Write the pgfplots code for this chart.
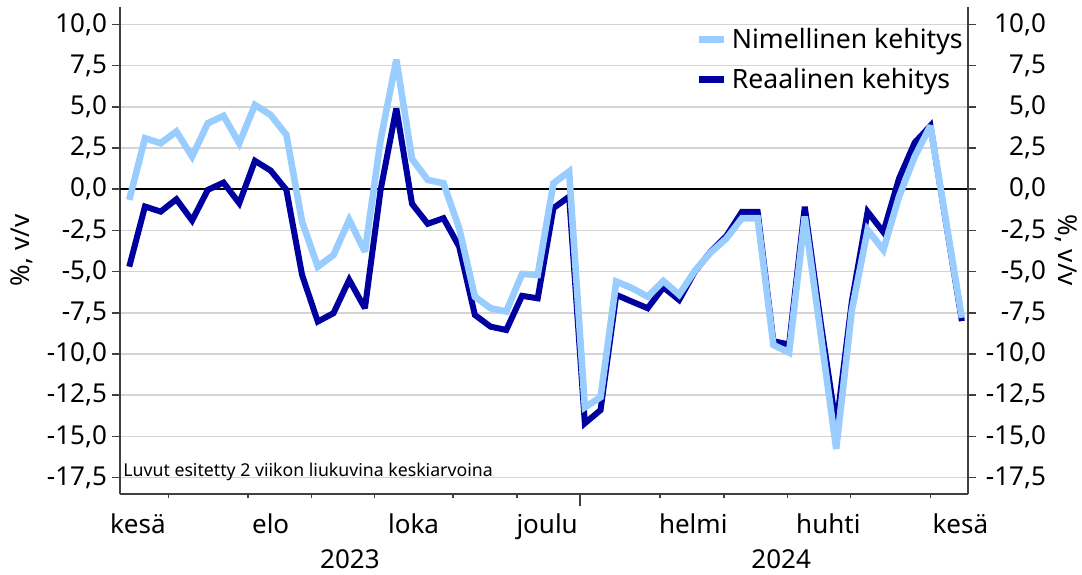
\documentclass[border=0pt]{standalone}
\usepackage{fontspec}
\setmainfont{Noto Sans}
\usepackage{pgfplots}
\usepackage{pgfplotstable}
\pgfplotsset{compat=1.18}

\definecolor{nimell}{RGB}{153,204,255}
\definecolor{reaal}{RGB}{0,0,160}
\definecolor{axisgray}{RGB}{64,64,64}
\definecolor{gridgray}{RGB}{212,212,212}

% viikkoindeksi, nimellinen, reaalinen (2 viikon liukuva ka., %, v/v)
\pgfplotstableread{
i  nim     real
0  -0.65   -4.70
1   3.09   -1.05
2   2.79   -1.36
3   3.50   -0.61
4   1.98   -1.90
5   4.00   -0.04
6   4.45    0.40
7   2.79   -0.85
8   5.11    1.72
9   4.50    1.13
10  3.30   -0.04
11 -1.97   -5.20
12 -4.70   -8.03
13 -3.99   -7.52
14 -1.86   -5.50
15 -3.79   -7.22
16  2.99   -0.04
17  7.85    4.90
18  1.83   -0.89
19  0.56   -2.10
20  0.36   -1.76
21 -2.37   -3.48
22 -6.52   -7.63
23 -7.22   -8.34
24 -7.42   -8.54
25 -5.14   -6.47
26 -5.20   -6.62
27  0.36   -1.15
28  1.07   -0.45
29 -13.23  -14.20
30 -12.62  -13.40
31 -5.60   -6.41
32 -6.00   -6.82
33 -6.52   -7.22
34 -5.57   -5.95
35 -6.40   -6.72
36 -4.95   -5.00
37 -3.85   -3.80
38 -3.00   -2.85
39 -1.76   -1.37
40 -1.76   -1.37
41 -9.45   -9.22
42 -9.91   -9.42
43 -1.66   -1.07
44 -8.70   -8.00
45 -15.75  -14.40
46 -7.32   -6.78
47 -2.47   -1.37
48 -3.68   -2.60
49 -0.45    0.65
50  1.98    2.83
51  3.85    3.85
52 -2.00   -2.10
53 -7.80   -8.00
}\viikot

\pgfplotsset{
  pohja/.style={
    scale only axis, width=424pt, height=243.65pt,
    xmin=-0.59, xmax=53.39, ymin=-18.49, ymax=11.07,
    ytick={-17.5,-15,...,10},
    tick align=outside,
    major tick length=4pt,
    axis line style={axisgray, line width=1pt},
    every tick/.style={axisgray, line width=0.8pt},
    tick label style={font=\fontsize{13}{15}\selectfont},
    /pgf/number format/.cd, fixed, fixed zerofill, precision=1, use comma, assume math mode=true,
  },
}
\tikzset{
  kk/.style={anchor=base, font=\fontsize{13}{15}\selectfont, yshift=-19.5pt},
  vuosi/.style={anchor=base, inner sep=0pt, font=\fontsize{13}{15}\selectfont, yshift=-37pt},
}

\begin{document}
\begin{tikzpicture}
% aika-akseli
\begin{axis}[pohja,
  axis x line*=bottom, axis y line=none,
  major tick length=2pt,
  xtick={2.5,7.55,11.6,15.6,20.6,24.7,33.8,37.85,41.9,45.9,51.0},
  xticklabels={},
  extra x ticks={28.7},
  extra x tick labels={},
  extra x tick style={major tick length=6pt},
]
\end{axis}

\begin{axis}[pohja,
  clip=false,
  axis x line*=bottom, axis y line*=left,
  xtick=\empty,
  yticklabel style={xshift=1pt},
  ymajorgrids,
  major grid style={gridgray, line width=0.8pt},
  ylabel={\%, v/v},
  ylabel style={at={(axis description cs:0,0.5)}, anchor=center, yshift=49pt, font=\fontsize{13}{15}\selectfont},
  legend cell align=left,
  legend style={draw=none, fill=none, at={(axis description cs:1,1)}, anchor=north east,
    xshift=-0.5pt, yshift=-8.5pt, font=\fontsize{13.3}{16}\selectfont, row sep=4.5pt,
    inner sep=0pt},
  legend image code/.code={\draw[#1, line width=3.5pt] (0pt,0pt) -- (12.5pt,0pt);},
]
\addplot[black, line width=0.8pt, forget plot] coordinates {(-0.59,0) (53.39,0)};
\addplot[reaal, line width=3pt, miter limit=2.5, forget plot] table[x=i, y=real] {\viikot};
\addplot[nimell, line width=3.3pt, miter limit=2.5] table[x=i, y=nim] {\viikot};
\addlegendentry{Nimellinen kehitys}
\addlegendimage{reaal}
\addlegendentry{Reaalinen kehitys}

\node[anchor=base west, font=\fontsize{8.85}{10}\selectfont, inner sep=0pt, xshift=1.5pt] at (axis cs:-0.59,-17.4) {Luvut esitetty 2 viikon liukuvina keskiarvoina};

\node[kk] at (axis cs:0.55,-18.49) {kesä};
\node[kk] at (axis cs:9.0,-18.49) {elo};
\node[kk] at (axis cs:18.1,-18.49) {loka};
\node[kk] at (axis cs:26.6,-18.49) {joulu};
\node[kk] at (axis cs:35.9,-18.49) {helmi};
\node[kk] at (axis cs:44.5,-18.49) {huhti};
\node[kk] at (axis cs:52.9,-18.49) {kesä};
\node[vuosi] at (axis cs:14.05,-18.49) {2023};
\node[vuosi] at (axis cs:41.5,-18.49) {2024};
\end{axis}

\begin{axis}[pohja,
  axis x line=none, axis y line*=right,
  yticklabel style={anchor=east, xshift=38.5pt},
  ylabel={\%, v/v},
  ylabel style={at={(axis description cs:1,0.5)}, anchor=center, rotate=180, yshift=49pt, font=\fontsize{13}{15}\selectfont},
]
\end{axis}

\pgfresetboundingbox
\path (-60pt,-40pt) rectangle (481pt,247pt);
\end{tikzpicture}
\end{document}
